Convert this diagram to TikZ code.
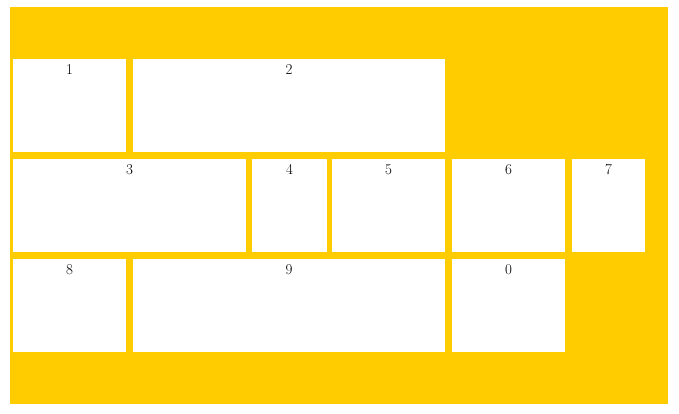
\documentclass[tikz,border=0pt]{standalone}
\usepackage{xcolor}
\definecolor{flexyellow}{HTML}{FFCC00}
\tikzset{
  cell/.style={
    rectangle,
    fill=white,
    draw=none,
    anchor=north west,
    minimum height=93pt,
    inner sep=0pt,
    outer sep=0pt,
    label={[anchor=north,yshift=-5pt,inner sep=0pt,font=\fontsize{15}{15}\selectfont]north:#1}
  }
}

\begin{document}
\begin{tikzpicture}[x=1pt,y=-1pt]
    \useasboundingbox (0,0) rectangle (679,413);
    \fill[flexyellow] (10,7) rectangle (668,404);
    \node[cell=1,minimum width=113pt] (c1) at (13,59) {};
    \node[cell=2,minimum width=312pt] (c2) at (133,59) {};
    \node[cell=3,minimum width=233pt] (c3) at (13,159) {};
    \node[cell=4,minimum width=75pt] (c4) at (252,159) {};
    \node[cell=5,minimum width=113pt] (c5) at (332,159) {};
    \node[cell=6,minimum width=113pt] (c6) at (452,159) {};
    \node[cell=7,minimum width=73pt] (c7) at (572,159) {};
    \node[cell=8,minimum width=113pt] (c8) at (13,259) {};
    \node[cell=9,minimum width=312pt] (c9) at (133,259) {};
    \node[cell=0,minimum width=113pt] (c0) at (452,259) {};
\end{tikzpicture}
\end{document}
